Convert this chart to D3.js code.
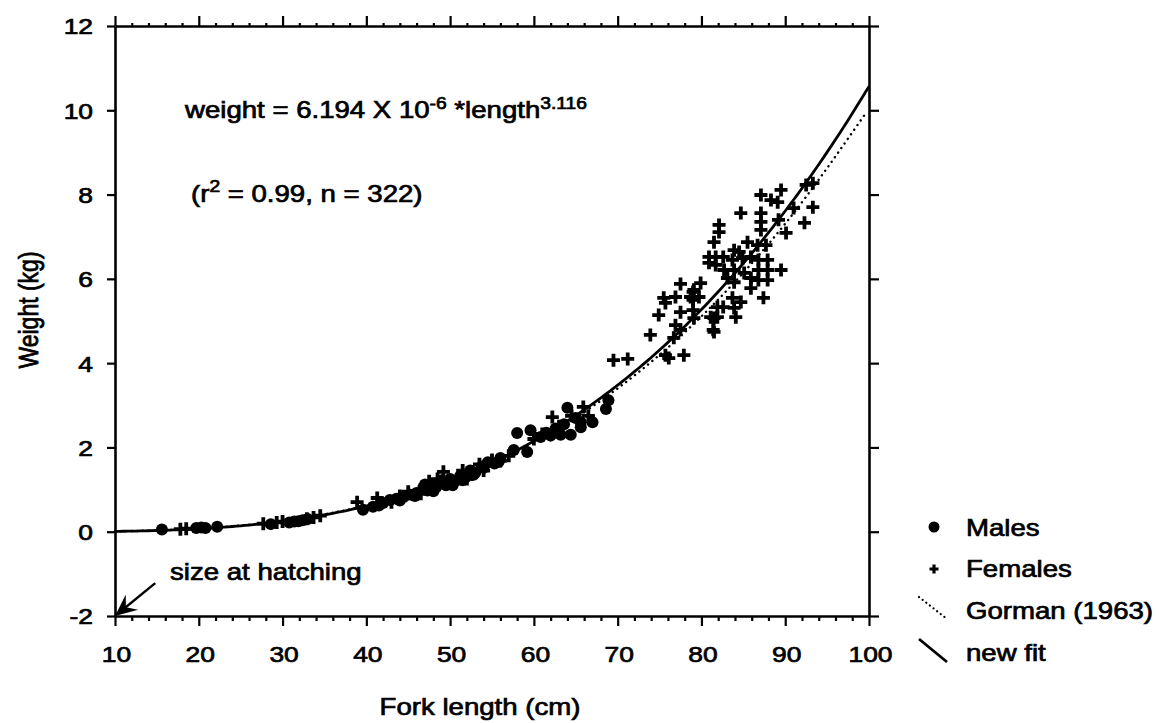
<!DOCTYPE html>
<html><head><meta charset="utf-8">
<script src="https://cdn.jsdelivr.net/npm/d3@7"></script>
<style>
html,body{margin:0;padding:0;background:#fff;}
svg{display:block;}
text{font-family:"Liberation Sans",Arial,sans-serif;fill:#000;stroke:#000;stroke-width:0.7px;}
</style></head><body>
<svg id="chart" width="1159" height="723"></svg>
<script>
// ---------- data ----------
const xTickValues = [10,20,30,40,50,60,70,80,90,100];
const yTickValues = [-2,0,2,4,6,8,10,12];

const malesLength = [15.6,19.7,20.3,20.8,22.2,28.6,30.8,31.4,31.9,32.4,33.0,
  39.6,40.8,42.0,42.8,43.6,44.5,45.3,46.0,46.8,47.3,47.8,48.3,48.9,49.5,50.0,50.6,51.2,51.8,52.4,53.0,53.8,54.5,55.3,56.0,
  41.5,44.0,45.8,47.0,48.0,49.0,50.3,51.5,52.8,54.0,55.8,
  57.6,58.0,59.2,59.6,60.8,61.5,62.0,62.6,63.2,63.6,64.0,64.4,65.0,65.6,65.6,67.0,68.6,68.9];
const malesWeight = [0.05,0.09,0.10,0.09,0.12,0.18,0.22,0.24,0.25,0.27,0.30,
  0.52,0.59,0.68,0.75,0.78,0.83,0.88,0.92,1.05,0.98,1.12,1.05,1.18,1.10,1.25,1.20,1.32,1.28,1.45,1.40,1.55,1.65,1.62,1.75,
  0.62,0.74,0.85,1.12,0.96,1.22,1.10,1.22,1.35,1.52,1.66,
  1.94,2.34,1.89,2.41,2.25,2.35,2.28,2.45,2.30,2.55,2.94,2.30,2.70,2.60,2.48,2.60,2.91,3.12];

const femalesLength = [17.8,18.5,27.7,29.3,30.0,32.9,33.7,34.5,
  38.9,41.3,43.0,44.0,45.0,46.5,47.5,48.5,49.2,50.3,51.5,52.0,53.5,54.0,55.0,56.0,57.0,60.0,61.0,62.2,63.0,64.5,65.9,66.5,
  69.5,71.2,73.9,74.9,75.5,75.7,75.7,76.1,76.7,76.9,76.9,77.5,77.5,77.5,77.9,78.7,79.0,79.0,79.0,79.1,79.1,79.7,79.9,
  80.9,80.9,81.1,81.4,81.5,81.5,81.5,81.7,81.7,81.9,81.9,82.1,82.1,82.6,82.6,82.7,83.1,83.7,83.7,83.9,83.9,83.9,83.9,84.1,
  84.5,84.7,84.7,84.9,85.1,85.5,85.9,85.9,85.9,86.7,86.8,86.8,86.8,87.1,87.1,87.1,87.1,87.4,87.7,87.9,87.9,87.9,
  88.3,89.1,89.2,89.5,89.5,90.1,91.0,92.3,92.5,93.3,93.3];
const femalesWeight = [0.06,0.07,0.19,0.22,0.24,0.31,0.34,0.38,
  0.70,0.80,0.70,0.85,0.95,0.90,1.20,1.25,1.42,1.15,1.45,1.25,1.60,1.45,1.70,1.68,1.80,2.20,2.32,2.72,2.50,2.75,2.96,2.75,
  4.07,4.10,4.67,5.14,5.55,5.43,4.19,4.12,4.60,5.57,4.90,5.88,5.21,4.79,4.19,5.57,5.69,5.50,5.26,5.07,5.74,5.57,5.90,
  6.52,6.38,5.09,4.79,6.87,5.07,4.74,6.52,6.33,5.33,5.09,7.28,7.11,6.52,5.33,6.21,6.02,6.45,5.55,6.68,6.21,5.92,5.31,5.09,
  6.64,7.56,5.45,6.49,6.14,6.87,6.52,6.02,5.78,6.80,6.45,6.21,5.97,7.99,7.56,7.35,7.16,5.55,6.80,6.45,6.21,5.97,
  7.87,7.82,7.40,8.11,6.21,7.09,7.68,7.33,8.23,7.70,8.27];

const gormanLength = [10,20,30,40,50,60,70,80,90,99.5];
const gormanWeight = [0.01,0.07,0.26,0.62,1.22,2.12,3.40,5.11,7.31,9.90];

const fitCoefA = 6.194e-6, fitExpB = 3.116;   // from the printed equation
const legendLabels = ["Males","Females","Gorman (1963)","new fit"];

// ---------- drawing ----------
const svg = d3.select("#chart");
const x = d3.scaleLinear().domain([10,100]).range([115,869]);
const y = d3.scaleLinear().domain([-2,12]).range([616,26]);
const SX = 1.2;
const FS = 23;

function styleAxis(g){
  g.attr("font-family",null).attr("font-size",null);
  g.select(".domain").attr("stroke-width",2.6);
  g.selectAll(".tick line").attr("stroke-width",2.2);
}

const minorX = d3.range(12,100,2).filter(v => v % 10 !== 0);
svg.append("g").attr("transform",`translate(0,${y(-2)})`)
  .call(d3.axisBottom(x).tickValues(minorX).tickSize(5).tickFormat("").tickSizeOuter(0))
  .call(g => g.select(".domain").remove()).call(styleAxis);
svg.append("g").attr("transform",`translate(0,${y(12)})`)
  .call(d3.axisTop(x).tickValues(minorX).tickSize(3).tickFormat("").tickSizeOuter(0))
  .call(g => g.select(".domain").remove()).call(styleAxis);

const gx = svg.append("g").attr("transform",`translate(0,${y(-2)})`)
  .call(d3.axisBottom(x).tickValues(xTickValues).tickSize(10).tickSizeOuter(0).tickFormat(d => String(d)))
  .call(styleAxis);
gx.selectAll(".tick text").attr("x",null).attr("y",null).attr("dy",null)
  .attr("font-size",22).attr("text-anchor","middle")
  .attr("transform",`translate(1,46) scale(${SX},1)`);

svg.append("g").attr("transform",`translate(0,${y(12)})`)
  .call(d3.axisTop(x).tickValues(xTickValues).tickSize(10).tickSizeOuter(0).tickFormat(""))
  .call(styleAxis);

const gy = svg.append("g").attr("transform",`translate(${x(10)},0)`)
  .call(d3.axisLeft(y).tickValues(yTickValues).tickSize(8).tickSizeOuter(0).tickFormat(d => String(d)))
  .call(styleAxis);
gy.selectAll(".tick text").attr("x",null).attr("dy","0.36em")
  .attr("font-size",22).attr("text-anchor","end")
  .attr("transform",`translate(-22,0) scale(${SX},1)`);

svg.append("g").attr("transform",`translate(${x(100)},0)`)
  .call(d3.axisRight(y).tickValues(yTickValues).tickSize(10).tickSizeOuter(0).tickFormat(""))
  .call(styleAxis);

// curves
const fitLength = d3.range(10, 100.001, 0.5);
svg.append("path")
  .datum(gormanLength.map((l,i) => [l, gormanWeight[i]]))
  .attr("d", d3.line().x(d => x(d[0])).y(d => y(d[1])).curve(d3.curveMonotoneX))
  .attr("fill","none").attr("stroke","#000").attr("stroke-width",2.4)
  .attr("stroke-dasharray","0.1,5.5").attr("stroke-linecap","round");
svg.append("path")
  .datum(fitLength.map(l => [l, fitCoefA * Math.pow(l, fitExpB)]))
  .attr("d", d3.line().x(d => x(d[0])).y(d => y(d[1])))
  .attr("fill","none").attr("stroke","#000").attr("stroke-width",2.8);

// points
svg.append("g").selectAll("circle").data(malesLength.map((l,i) => [l, malesWeight[i]]))
  .join("circle").attr("cx", d => x(d[0])).attr("cy", d => y(d[1])).attr("r",6).attr("fill","#000");
const plusPath = "M-6.5,0H6.5M0,-6.5V6.5";
svg.append("g").selectAll("path").data(femalesLength.map((l,i) => [l, femalesWeight[i]]))
  .join("path").attr("d", plusPath)
  .attr("transform", d => `translate(${x(d[0])},${y(d[1])})`)
  .attr("stroke","#000").attr("stroke-width",3.8).attr("fill","none");

// text helper
function label(str, px, py, size, anchor){
  return svg.append("text").attr("font-size",size).attr("text-anchor",anchor || "start")
    .attr("transform",`translate(${px},${py}) scale(${SX},1)`).text(str);
}

// equation
const eq = svg.append("text").attr("font-size",FS)
  .attr("transform",`translate(185,118) scale(${SX},1)`);
eq.append("tspan").text("weight = 6.194 X 10");
eq.append("tspan").attr("font-size",16).attr("dy",-9).text("-6");
eq.append("tspan").attr("dy",9).text(" *length");
eq.append("tspan").attr("font-size",16).attr("dy",-9).text("3.116");

const r2 = svg.append("text").attr("font-size",FS)
  .attr("transform",`translate(191,202) scale(${SX},1)`);
r2.append("tspan").text("(r");
r2.append("tspan").attr("font-size",16).attr("dy",-10).text("2");
r2.append("tspan").attr("dy",10).text(" = 0.99, n = 322)");

// size at hatching annotation
label("size at hatching", 170, 580, FS);
const tip = [x(10), y(-2)];
const tail = [x(14.8), y(-1.22)];
svg.append("line").attr("x1",tail[0]).attr("y1",tail[1]).attr("x2",tip[0]+4).attr("y2",tip[1]-3.3)
  .attr("stroke","#000").attr("stroke-width",2.4);
{
  const dx = tail[0]-tip[0], dy = tail[1]-tip[1], len = Math.hypot(dx,dy);
  const ux = dx/len, uy = dy/len;
  const a = 24*Math.PI/180, L = 24;
  const rot = (ang) => [ux*Math.cos(ang)-uy*Math.sin(ang), ux*Math.sin(ang)+uy*Math.cos(ang)];
  const w1 = rot(a), w2 = rot(-a);
  const pts = [tip,
    [tip[0]+w1[0]*L, tip[1]+w1[1]*L],
    [tip[0]+ux*14, tip[1]+uy*14],
    [tip[0]+w2[0]*L, tip[1]+w2[1]*L]];
  svg.append("path").attr("d","M"+pts.map(p => p.join(",")).join("L")+"Z").attr("fill","#000");
}

// axis titles
label("Fork length (cm)", 480, 715, FS, "middle");
svg.append("text").attr("font-size",FS).attr("text-anchor","middle")
  .attr("transform","translate(38,310) rotate(-90) scale(1,1.2)").text("Weight (kg)");

// legend
const lgX = 934, lgText = 966, lgBase = [536,577,619,661];
svg.append("circle").attr("cx",lgX).attr("cy",lgBase[0]-9).attr("r",5.5).attr("fill","#000");
svg.append("path").attr("d","M-4.5,0H4.5M0,-4.5V4.5").attr("transform",`translate(${lgX},${lgBase[1]-8})`)
  .attr("stroke","#000").attr("stroke-width",3.2);
svg.append("line").attr("x1",lgX-15).attr("y1",lgBase[2]-22).attr("x2",lgX+13).attr("y2",lgBase[2])
  .attr("stroke","#000").attr("stroke-width",2.2).attr("stroke-dasharray","0.1,4.5").attr("stroke-linecap","round");
svg.append("line").attr("x1",lgX-15).attr("y1",lgBase[3]-22).attr("x2",lgX+13).attr("y2",lgBase[3]+1)
  .attr("stroke","#000").attr("stroke-width",2.8);
legendLabels.forEach((t,i) => label(t, lgText, lgBase[i], FS));
</script>
</body></html>
